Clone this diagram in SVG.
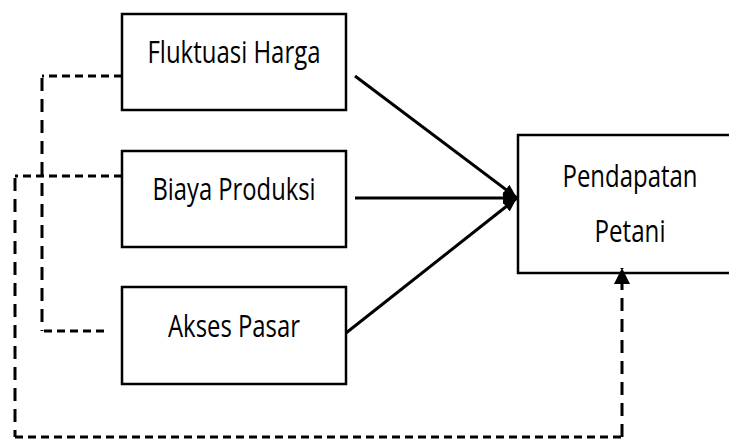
<svg xmlns="http://www.w3.org/2000/svg" width="729" height="439" viewBox="0 0 729 439">
<style>
.box{fill:#fff;stroke:#000;stroke-width:2.5}
.lbl{font-family:"Open Sans","Liberation Sans",sans-serif;font-size:31px;fill:#000;text-anchor:middle}
.solid{fill:none;stroke:#000;stroke-width:3}
.dh{fill:none;stroke:#000;stroke-width:3;stroke-dasharray:8 5}
.dv{fill:none;stroke:#000;stroke-width:3;stroke-dasharray:13 8}
</style>
<defs>
<marker id="ah" viewBox="0 0 14 12" refX="14" refY="6" markerWidth="14" markerHeight="12" markerUnits="userSpaceOnUse" orient="auto">
<path d="M0,0 L14,6 L0,12 Z" fill="#000"/>
</marker>
<marker id="ah2" viewBox="0 0 16 16" refX="16" refY="8" markerWidth="16" markerHeight="16" markerUnits="userSpaceOnUse" orient="auto">
<path d="M0,0 L16,8 L0,16 Z" fill="#000"/>
</marker>
</defs>
<g id="node-fluktuasi">
<rect class="box" x="122" y="14" width="224" height="96"/>
<text class="lbl" x="234" y="63" textLength="173" lengthAdjust="spacingAndGlyphs">Fluktuasi Harga</text>
</g>
<g id="node-biaya">
<rect class="box" x="122" y="151" width="224" height="96"/>
<text class="lbl" x="234" y="200" textLength="163" lengthAdjust="spacingAndGlyphs">Biaya Produksi</text>
</g>
<g id="node-akses">
<rect class="box" x="122" y="287" width="224" height="97"/>
<text class="lbl" x="234" y="337" textLength="132" lengthAdjust="spacingAndGlyphs">Akses Pasar</text>
</g>
<g id="node-pendapatan">
<rect class="box" x="518" y="135" width="213" height="138"/>
<text class="lbl" x="630" y="187" textLength="135" lengthAdjust="spacingAndGlyphs">Pendapatan</text>
<text class="lbl" x="630" y="242" textLength="71" lengthAdjust="spacingAndGlyphs">Petani</text>
</g>
<g id="connectors">
<line class="solid" x1="355" y1="76" x2="517" y2="198" marker-end="url(#ah)"/>
<line class="solid" x1="355" y1="198" x2="517" y2="198" marker-end="url(#ah)"/>
<line class="solid" x1="346" y1="333" x2="517" y2="198" marker-end="url(#ah)"/>
<path class="dh" d="M122,76 H42"/>
<path class="dv" d="M42,78 V331"/>
<path class="dh" d="M44,331 H105"/>
<path class="dh" d="M122,176 H15"/>
<path class="dv" d="M15,178 V437"/>
<path class="dh" d="M15,437 H622"/>
<path class="dv" d="M622,437 V268" marker-end="url(#ah2)"/>
</g>
</svg>
